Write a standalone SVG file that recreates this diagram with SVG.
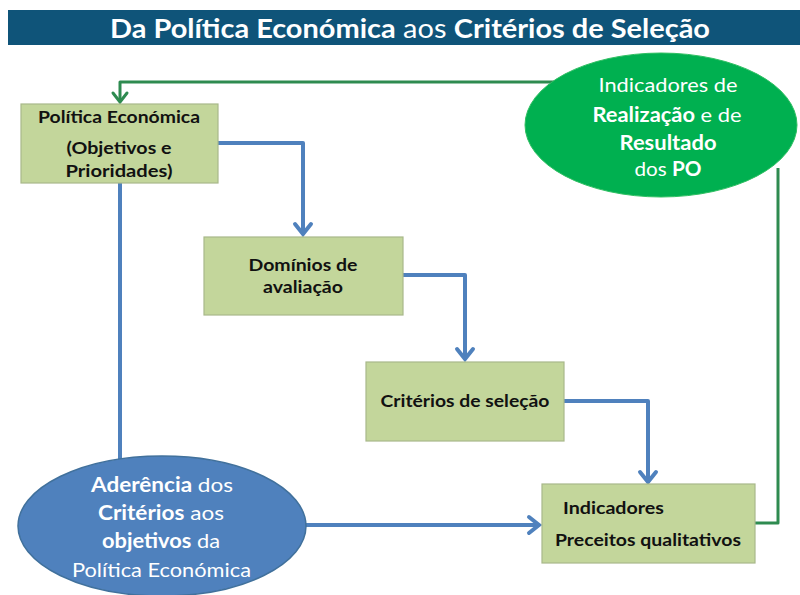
<svg xmlns="http://www.w3.org/2000/svg" width="800" height="595" viewBox="0 0 800 595">
<defs>
<style>
.box{fill:#C3D69B;stroke:#A8B88A;stroke-width:1.2}
.bt{font-family:Lato,"Open Sans","Liberation Sans",sans-serif;font-weight:bold;fill:#111;font-size:17.5px;text-anchor:middle}
.et{font-family:Lato,"Open Sans","Liberation Sans",sans-serif;fill:#fff;font-size:20px;text-anchor:middle}
.b{font-weight:bold}
.blue{fill:none;stroke:#4F81BD;stroke-width:4;stroke-linejoin:round}
.green{fill:none;stroke:#2E8B50;stroke-width:3;stroke-linejoin:round}
</style>
<marker id="ab" markerUnits="userSpaceOnUse" viewBox="-14 -12 18 24" markerWidth="18" markerHeight="24" refX="0" refY="0" orient="auto" overflow="visible">
<path d="M-10,-8 L0,0 L-10,8" fill="none" stroke="#4F81BD" stroke-width="4" stroke-linecap="round" stroke-linejoin="miter"/>
</marker>
<marker id="ag" markerUnits="userSpaceOnUse" viewBox="-14 -12 18 24" markerWidth="18" markerHeight="24" refX="0" refY="0" orient="auto" overflow="visible">
<path d="M-9,-7 L0,0 L-9,7" fill="none" stroke="#2E8B50" stroke-width="3" stroke-linecap="round"/>
</marker>
</defs>
<rect width="800" height="595" fill="#fff"/>
<g id="title">
<rect x="8" y="10" width="792" height="35" fill="#0F5479"/>
<text x="410" y="38" font-family="Lato,'Open Sans','Liberation Sans',sans-serif" font-size="27" fill="#fff" text-anchor="middle" textLength="600" lengthAdjust="spacingAndGlyphs"><tspan font-weight="bold">Da Política Económica</tspan> aos <tspan font-weight="bold">Critérios de Seleção</tspan></text>
</g>
<g id="connectors">
<path class="blue" d="M218,143 H303 V234" marker-end="url(#ab)"/>
<path class="blue" d="M403,275 H465 V359" marker-end="url(#ab)"/>
<path class="blue" d="M564,401 H648 V482" marker-end="url(#ab)"/>
<path class="blue" d="M120,183 V460"/>
<path class="blue" d="M300,525 H539" marker-end="url(#ab)"/>
<path class="green" d="M755,523 H778 V168"/>
<path class="green" d="M560,82 H120 V102" marker-end="url(#ag)"/>
</g>
<g id="politica">
<rect class="box" x="21" y="104" width="197" height="79"/>
<text class="bt" x="119" y="123" textLength="162" lengthAdjust="spacingAndGlyphs">Política Económica</text>
<text class="bt" x="119" y="154" textLength="105" lengthAdjust="spacingAndGlyphs">(Objetivos e</text>
<text class="bt" x="119" y="177" textLength="107" lengthAdjust="spacingAndGlyphs">Prioridades)</text>
</g>
<g id="dominios">
<rect class="box" x="204" y="237" width="199" height="78"/>
<text class="bt" x="303" y="271" textLength="109" lengthAdjust="spacingAndGlyphs">Domínios de</text>
<text class="bt" x="303" y="293" textLength="80" lengthAdjust="spacingAndGlyphs">avaliação</text>
</g>
<g id="criterios">
<rect class="box" x="366" y="362" width="198" height="79"/>
<text class="bt" x="465" y="407" textLength="169" lengthAdjust="spacingAndGlyphs">Critérios de seleção</text>
</g>
<g id="indicadores">
<rect class="box" x="542" y="484" width="213" height="79"/>
<text class="bt" x="613.5" y="514" textLength="101" lengthAdjust="spacingAndGlyphs">Indicadores</text>
<text class="bt" x="648" y="546" textLength="186" lengthAdjust="spacingAndGlyphs">Preceitos qualitativos</text>
</g>
<g id="indicadores-realizacao">
<ellipse cx="661" cy="125" rx="136" ry="72" fill="#00B050" stroke="#2FBF62" stroke-width="1"/>
<text class="et" x="668" y="92" textLength="139" lengthAdjust="spacingAndGlyphs">Indicadores de</text>
<text class="et" x="667" y="122" textLength="149" lengthAdjust="spacingAndGlyphs"><tspan class="b">Realização</tspan> e de</text>
<text class="et b" x="668" y="150" textLength="97" lengthAdjust="spacingAndGlyphs">Resultado</text>
<text class="et" x="668" y="176" textLength="67" lengthAdjust="spacingAndGlyphs">dos <tspan class="b">PO</tspan></text>
</g>
<g id="aderencia">
<ellipse cx="162" cy="526" rx="144" ry="70" fill="#4F81BD" stroke="#41719C" stroke-width="1.5"/>
<text class="et" x="162" y="492" textLength="142" lengthAdjust="spacingAndGlyphs"><tspan class="b">Aderência</tspan>  dos</text>
<text class="et" x="161" y="520" textLength="126" lengthAdjust="spacingAndGlyphs"><tspan class="b">Critérios</tspan>  aos</text>
<text class="et" x="161" y="548" textLength="118" lengthAdjust="spacingAndGlyphs"><tspan class="b">objetivos</tspan> da</text>
<text class="et" x="161.5" y="577" textLength="179" lengthAdjust="spacingAndGlyphs">Política Económica</text>
</g>
</svg>
